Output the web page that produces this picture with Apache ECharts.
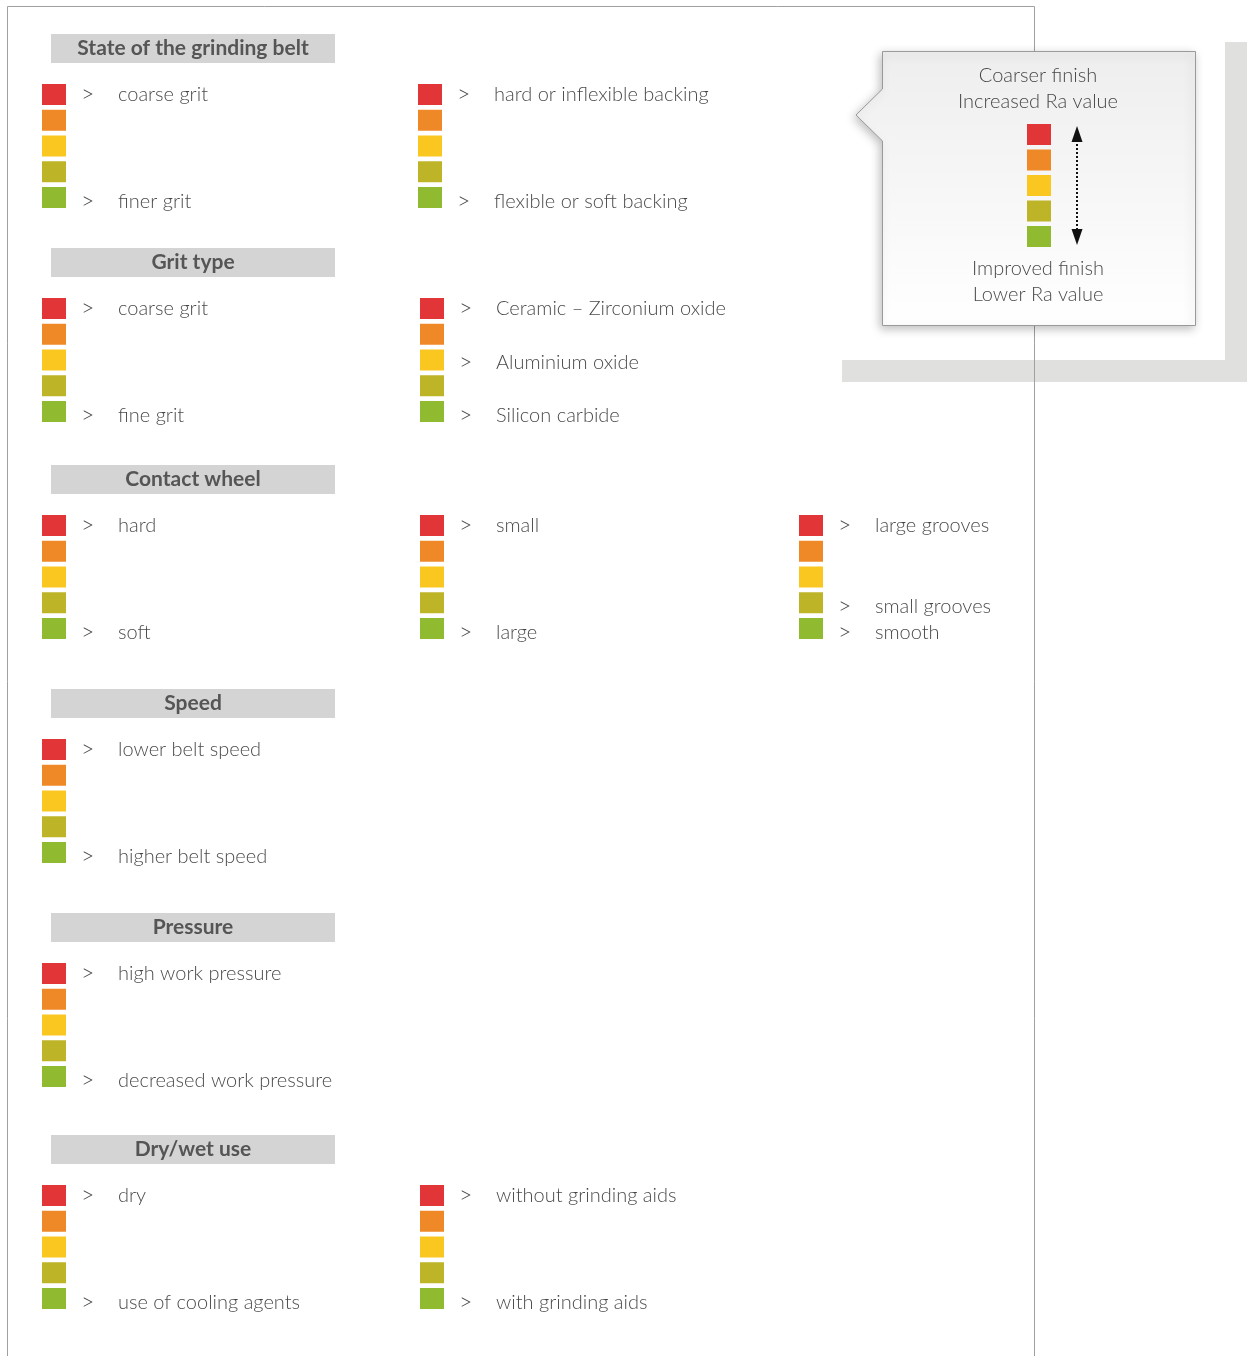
<!DOCTYPE html>
<html>
<head>
<meta charset="utf-8">
<script src="https://cdn.jsdelivr.net/npm/echarts@6/dist/echarts.min.js"></script>
<style>
html,body{margin:0;padding:0;background:#fff;}
#chart{width:1251px;height:1356px;}
</style>
</head>
<body>
<div id="chart"></div>
<script>
// ---------- DATA ----------
const levelColors = ['#e13538', '#ef8827', '#fac620', '#bdb428', '#90ba2f'];
const sectionTitles = ['State of the grinding belt', 'Grit type', 'Contact wheel', 'Speed', 'Pressure', 'Dry/wet use'];
// each column lists the label for the 5 levels (red → green), '' = no label
const beltState = [
  ['coarse grit', '', '', '', 'finer grit'],
  ['hard or inflexible backing', '', '', '', 'flexible or soft backing']
];
const gritType = [
  ['coarse grit', '', '', '', 'fine grit'],
  ['Ceramic – Zirconium oxide', '', 'Aluminium oxide', '', 'Silicon carbide']
];
const contactWheel = [
  ['hard', '', '', '', 'soft'],
  ['small', '', '', '', 'large'],
  ['large grooves', '', '', 'small grooves', 'smooth']
];
const speed = [['lower belt speed', '', '', '', 'higher belt speed']];
const pressure = [['high work pressure', '', '', '', 'decreased work pressure']];
const dryWet = [
  ['dry', '', '', '', 'use of cooling agents'],
  ['without grinding aids', '', '', '', 'with grinding aids']
];
const sections = [beltState, gritType, contactWheel, speed, pressure, dryWet];
const legendTop = ['Coarser finish', 'Increased Ra value'];
const legendBottom = ['Improved finish', 'Lower Ra value'];

// ---------- LAYOUT ----------
const W = 1251, H = 1356;
const sectionTop = [34, 248, 465, 689, 913, 1135];
const columnX = [42, 420, 799];
const SQ_W = 24, SQ_H = 21, STEP = 25.75, SQ_OFF = 50;
const HEAD_X = 51, HEAD_W = 284, HEAD_H = 29;
const FONT = 'Lato';
const TXT = '#151515';

const squares = [], texts = [], arrows = [], heads = [];
sections.forEach((cols, si) => {
  const top = sectionTop[si];
  heads.push({ value: [HEAD_X + HEAD_W / 2, top + HEAD_H / 2], name: sectionTitles[si] });
  cols.forEach((col, ci) => {
    let x = columnX[ci];
    if (si === 0 && ci === 1) x = 418;
    col.forEach((lab, li) => {
      const y = top + SQ_OFF + li * STEP;
      squares.push({ value: [x + SQ_W / 2, y + SQ_H / 2], itemStyle: { color: levelColors[li] } });
      if (lab) {
        const ty = y + SQ_H / 2 + 0.5 + 1.0 * li;
        arrows.push({ value: [x + 39, ty] });
        texts.push({ value: [x + 76, ty], name: lab });
      }
    });
  });
});
// callout legend squares
const legendSquares = levelColors.map((c, i) => ({ value: [1027 + SQ_W / 2, 124 + i * 25.5 + SQ_H / 2], itemStyle: { color: c } }));
const legendTexts = [
  { value: [1038, 76], name: legendTop[0] },
  { value: [1038, 102], name: legendTop[1] },
  { value: [1038, 269], name: legendBottom[0] },
  { value: [1038, 295], name: legendBottom[1] }
];

const chart = echarts.init(document.getElementById('chart'), null, { renderer: 'canvas' });
const option = {
  animation: false,
  backgroundColor: '#ffffff',
  grid: { left: 0, right: 0, top: 0, bottom: 0 },
  xAxis: { type: 'value', min: 0, max: W, show: false },
  yAxis: { type: 'value', min: 0, max: H, inverse: true, show: false },
  graphic: [
    // grey L shape
    { type: 'rect', z: 0, shape: { x: 1225, y: 42, width: 22, height: 340 }, style: { fill: '#e0e0df' } },
    { type: 'rect', z: 0, shape: { x: 842, y: 360, width: 405, height: 22 }, style: { fill: '#e0e0df' } },
    // frame
    { type: 'polyline', z: 1, shape: { points: [[7.5, H], [7.5, 6.5], [1034.5, 6.5], [1034.5, H]] }, style: { stroke: '#a0a0a0', lineWidth: 1, fill: null } },
    // callout box
    { type: 'polygon', z: 2,
      shape: { points: [[882.5, 51.5], [1195.5, 51.5], [1195.5, 325.5], [882.5, 325.5], [882.5, 141], [856, 115], [882.5, 89]] },
      style: {
        fill: new echarts.graphic.LinearGradient(0, 0, 0, 1, [{ offset: 0, color: '#eeeeee' }, { offset: 1, color: '#ffffff' }]),
        stroke: '#9a9a9a', lineWidth: 1,
        shadowBlur: 10, shadowColor: 'rgba(0,0,0,0.25)', shadowOffsetX: -2, shadowOffsetY: 3
      } },
    // dotted double arrow
    { type: 'line', z: 3, shape: { x1: 1077, y1: 140, x2: 1077, y2: 231 }, style: { stroke: '#111', lineWidth: 2, lineDash: [2, 2] } },
    { type: 'polygon', z: 3, shape: { points: [[1077, 126], [1071.5, 142], [1082.5, 142]] }, style: { fill: '#111' } },
    { type: 'polygon', z: 3, shape: { points: [[1077, 245], [1071.5, 229], [1082.5, 229]] }, style: { fill: '#111' } }
  ],
  series: [
    { type: 'scatter', z: 10, silent: true, symbol: 'rect', symbolSize: [HEAD_W, HEAD_H], data: heads,
      itemStyle: { color: '#d4d4d4', opacity: 1 },
      label: { show: true, position: 'inside', formatter: p => p.name, color: '#555555', fontFamily: FONT, fontWeight: 'bold', fontSize: 21 } },
    { type: 'scatter', z: 10, silent: true, symbol: 'rect', symbolSize: [SQ_W, SQ_H], itemStyle: { opacity: 1 }, data: squares.concat(legendSquares) },
    { type: 'scatter', z: 10, silent: true, symbolSize: 0, data: arrows,
      label: { show: true, position: 'inside', align: 'left', verticalAlign: 'middle', formatter: '>', color: TXT, fontFamily: FONT, fontWeight: 300, fontSize: 23 } },
    { type: 'scatter', z: 10, silent: true, symbolSize: 0, data: texts,
      label: { show: true, position: 'inside', align: 'left', verticalAlign: 'middle', formatter: p => p.name, color: TXT, fontFamily: FONT, fontWeight: 300, fontSize: 20 } },
    { type: 'scatter', z: 10, silent: true, symbolSize: 0, data: legendTexts,
      label: { show: true, position: 'inside', align: 'center', verticalAlign: 'middle', formatter: p => p.name, color: TXT, fontFamily: FONT, fontWeight: 300, fontSize: 20 } }
  ]
};
chart.setOption(option);
</script>
</body>
</html>
